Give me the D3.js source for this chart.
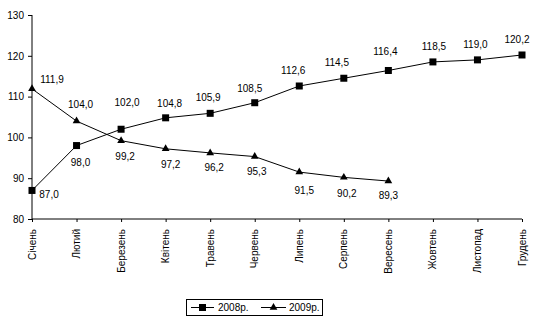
<!DOCTYPE html>
<html>
<head>
<meta charset="utf-8">
<script src="https://cdn.jsdelivr.net/npm/d3@7"></script>
<style>
  html, body { margin: 0; padding: 0; background: #fff; }
  svg { display: block; font-family: Arial, "Liberation Sans", sans-serif; }
</style>
</head>
<body>
<svg id="chart" width="539" height="322"></svg>
<script>
// Monthly index values, 2008 vs 2009
const months = ["Січень", "Лютий", "Березень", "Квітень", "Травень", "Червень",
                "Липень", "Серпень", "Вересень", "Жовтень", "Листопад", "Грудень"];
const values2008 = [87.0, 98.0, 102.0, 104.8, 105.9, 108.5, 112.6, 114.5, 116.4, 118.5, 119.0, 120.2];
const values2009 = [111.9, 104.0, 99.2, 97.2, 96.2, 95.3, 91.5, 90.2, 89.3];
const yTicks = [80, 90, 100, 110, 120, 130];
const seriesNames = ["2008р.", "2009р."];

// Label offsets (dx, dy) from each point to the centre of its value label
const labelOffsets2008 = [[17, 4], [4, 17], [6, -27], [4, -14], [-2, -16], [-5, -14],
                          [-6, -15], [-7, -16], [-3, -19], [1, -15], [-2, -15], [-5, -15]];
const labelOffsets2009 = [[20, -9], [4, -17], [4, 16], [5, 16], [4, 15], [2, 15],
                          [5, 18], [3, 16], [0, 14]];

const svg = d3.select("#chart");
const fmt = v => d3.format(".1f")(v).replace(".", ",");

const x = d3.scalePoint().domain(months).range([32, 522]);
const y = d3.scaleLinear().domain([80, 130]).range([219, 15]);

// Y axis
const yAxis = svg.append("g")
  .attr("transform", "translate(32,0)")
  .call(d3.axisLeft(y).tickValues(yTicks).tickSize(4).tickPadding(4).tickFormat(d3.format("d")));
yAxis.select(".domain").attr("stroke", "#000").attr("d", `M0,${y(80)}V${y(130)}`);
yAxis.selectAll(".tick line").attr("stroke", "#000");
yAxis.selectAll(".tick text").attr("font-size", 10).attr("fill", "#000")
  .attr("font-family", "Arial, 'Liberation Sans', sans-serif");

// X axis
const xAxis = svg.append("g")
  .attr("transform", `translate(0,${y(80)})`)
  .call(d3.axisBottom(x).tickSize(3).tickFormat(""));
xAxis.select(".domain").attr("stroke", "#000").attr("d", `M${x(months[0])},0H${x(months[11])}`);
xAxis.selectAll(".tick line").attr("stroke", "#000");

svg.append("g").selectAll("text")
  .data(months)
  .join("text")
  .attr("transform", d => `translate(${x(d)},${y(80) + 10}) rotate(-90)`)
  .attr("text-anchor", "end")
  .attr("dy", "0.35em")
  .attr("font-size", 10)
  .attr("fill", "#000")
  .text(d => d);

// Series
const line = d3.line().x((d, i) => x(months[i])).y(d => y(d));
const tri = d3.symbol().type(d3.symbolTriangle).size(26);

function drawSeries(values, marker, offsets) {
  const g = svg.append("g");
  g.append("path")
    .datum(values)
    .attr("fill", "none")
    .attr("stroke", "#000")
    .attr("stroke-width", 1)
    .attr("d", line);
  if (marker === "square") {
    g.selectAll("rect").data(values).join("rect")
      .attr("x", (d, i) => x(months[i]) - 3.5)
      .attr("y", d => y(d) - 3.5)
      .attr("width", 7).attr("height", 7)
      .attr("fill", "#000");
  } else {
    g.selectAll(".mk").data(values).join("path")
      .attr("class", "mk")
      .attr("transform", (d, i) => `translate(${x(months[i])},${y(d)})`)
      .attr("d", tri)
      .attr("fill", "#000");
  }
  g.selectAll("text").data(values).join("text")
    .attr("x", (d, i) => x(months[i]) + offsets[i][0])
    .attr("y", (d, i) => y(d) + offsets[i][1])
    .attr("dy", "0.35em")
    .attr("text-anchor", "middle")
    .attr("font-size", 10)
    .attr("fill", "#000")
    .text(d => fmt(d));
}

drawSeries(values2008, "square", labelOffsets2008);
drawSeries(values2009, "triangle", labelOffsets2009);

// Legend
const lg = svg.append("g");
lg.append("rect")
  .attr("x", 186.5).attr("y", 299.5).attr("width", 136).attr("height", 16)
  .attr("fill", "#fff").attr("stroke", "#000");
const ly = 307.5;
lg.append("line").attr("x1", 191).attr("x2", 214).attr("y1", ly).attr("y2", ly).attr("stroke", "#000");
lg.append("rect").attr("x", 199).attr("y", ly - 3.5).attr("width", 7).attr("height", 7).attr("fill", "#000");
lg.append("text").attr("x", 218).attr("y", ly).attr("dy", "0.35em").attr("font-size", 10).text(seriesNames[0]);
lg.append("line").attr("x1", 261).attr("x2", 286).attr("y1", ly).attr("y2", ly).attr("stroke", "#000");
lg.append("path").attr("transform", `translate(273.5,${ly})`).attr("d", tri).attr("fill", "#000");
lg.append("text").attr("x", 289).attr("y", ly).attr("dy", "0.35em").attr("font-size", 10).text(seriesNames[1]);
</script>
</body>
</html>
